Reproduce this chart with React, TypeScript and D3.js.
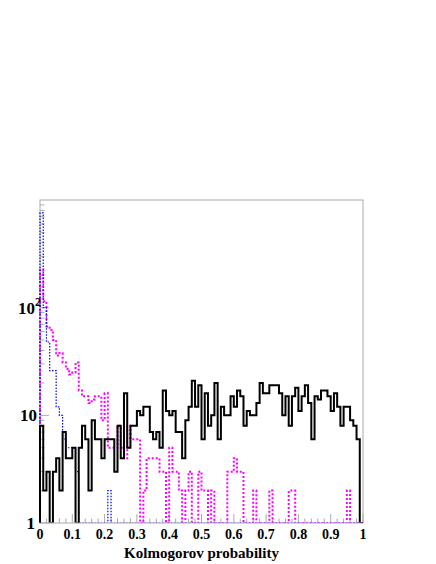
import React, { useEffect, useRef } from "react";
import * as d3 from "d3";

// bin contents, 100 bins from 0 to 1
const blackCounts = [
  8, 2, 3, 0, 3, 4, 2, 7, 4, 4, 5, 0, 5, 8, 6, 2, 9, 6, 6, 4,
  6, 6, 6, 3, 8, 4, 16, 5, 8, 8, 11, 10, 12, 12, 7, 6, 7, 5, 17, 11,
  10, 11, 7, 7, 4, 9, 12, 21, 12, 19, 6, 16, 8, 10, 20, 6, 12, 10, 10, 15,
  12, 17, 15, 8, 11, 10, 10, 13, 20, 16, 16, 19, 19, 19, 16, 10, 15, 8, 15, 18,
  11, 15, 19, 13, 6, 15, 14, 17, 17, 15, 11, 16, 12, 8, 12, 12, 9, 8, 6, 0,
];

const magentaCounts = [
  225, 115, 67, 62, 50, 36, 38, 31, 27, 24, 25, 31, 17, 15, 15, 13, 14, 15, 15, 9,
  16, 5, 5, 5, 8, 5, 4, 8, 6, 6, 6, 0, 2, 4, 4, 4, 4, 3, 3, 0,
  5, 3, 3, 2, 0, 2, 3, 0, 0, 3, 2, 2, 0, 2, 0, 0, 0, 0, 3, 3,
  4, 3, 3, 0, 0, 0, 2, 0, 0, 0, 0, 2, 0, 0, 0, 0, 0, 2, 2, 0,
  0, 0, 0, 0, 0, 0, 0, 0, 0, 0, 0, 0, 0, 0, 0, 2, 0, 0, 0, 0,
];

const blueCounts = [
  760, 100, 48, 26, 26, 12, 10, 6, 5, 5, 5, 3, 0, 0, 0, 0, 0, 0, 0, 0,
  0, 2, 0, 0, 0, 0, 0, 0, 0, 0, 0, 0, 0, 0, 0, 0, 0, 0, 0, 0,
  0, 0, 0, 0, 0, 0, 0, 0, 0, 0, 0, 0, 0, 0, 0, 0, 0, 0, 0, 0,
  0, 0, 0, 0, 0, 0, 0, 0, 0, 0, 0, 0, 0, 0, 0, 0, 0, 0, 0, 0,
  0, 0, 0, 0, 0, 0, 0, 0, 0, 0, 0, 0, 0, 0, 0, 0, 0, 0, 0, 0,
];

const xTickLabels = ["0", "0.1", "0.2", "0.3", "0.4", "0.5", "0.6", "0.7", "0.8", "0.9", "1"];
const xTitle = "Kolmogorov probability";

const W = 436;
const H = 564;

export default function App() {
  const svgRef = useRef<SVGSVGElement>(null);

  useEffect(() => {
    const svg = d3.select(svgRef.current);
    svg.selectAll("*").remove();

    const frame = { left: 40, right: 363, top: 200, bottom: 523 };
    const font = "Liberation Serif, Times New Roman, serif";

    const x = d3.scaleLinear().domain([0, 1]).range([frame.left, frame.right]);
    const y = d3.scaleLog().domain([1, 1000]).range([frame.bottom, frame.top]).clamp(true);

    // clip so empty bins running along the bottom are hidden under the frame
    svg
      .append("defs")
      .append("clipPath")
      .attr("id", "plotclip")
      .append("rect")
      .attr("x", 0)
      .attr("y", 0)
      .attr("width", W)
      .attr("height", frame.bottom - 0.6);

    // frame
    svg
      .append("rect")
      .attr("x", frame.left)
      .attr("y", frame.top)
      .attr("width", frame.right - frame.left)
      .attr("height", frame.bottom - frame.top)
      .attr("fill", "none")
      .attr("stroke", "#aaa")
      .attr("stroke-width", 1);

    // x ticks: major every 0.1, minor every 0.02
    const xt = d3.range(0, 51).map((i) => i / 50);
    svg
      .append("g")
      .selectAll("line")
      .data(xt)
      .enter()
      .append("line")
      .attr("x1", (d) => x(d))
      .attr("x2", (d) => x(d))
      .attr("y1", frame.bottom)
      .attr("y2", (d, i) => frame.bottom - (i % 5 === 0 ? 9 : 4.5))
      .attr("stroke", "#aaa");

    // y ticks (log)
    const yt: number[] = [];
    for (const dec of [1, 10, 100]) for (let k = 1; k <= 9; k++) yt.push(dec * k);
    svg
      .append("g")
      .selectAll("line")
      .data(yt)
      .enter()
      .append("line")
      .attr("y1", (d) => y(d))
      .attr("y2", (d) => y(d))
      .attr("x1", frame.left)
      .attr("x2", (d) => frame.left + ([1, 10, 100].includes(d) ? 9 : 4.5))
      .attr("stroke", "#aaa");

    // histograms
    const line = d3
      .line<[number, number]>()
      .x((d) => x(d[0]))
      .y((d) => y(Math.max(d[1], 1)))
      .curve(d3.curveStepAfter);

    const histPoints = (vals: number[]): [number, number][] => {
      const pts: [number, number][] = [[0, 0]];
      vals.forEach((v, i) => pts.push([i / vals.length, v]));
      pts.push([1, vals[vals.length - 1]]);
      pts.push([1, 0]);
      return pts;
    };

    const hists = svg.append("g").attr("clip-path", "url(#plotclip)");

    hists
      .append("path")
      .attr("d", line(histPoints(magentaCounts)))
      .attr("fill", "none")
      .attr("stroke", "#ff00ff")
      .attr("stroke-width", 2)
      .attr("stroke-dasharray", "2,2");

    hists
      .append("path")
      .attr("d", line(histPoints(blueCounts)))
      .attr("fill", "none")
      .attr("stroke", "#0000ff")
      .attr("stroke-width", 1.2)
      .attr("stroke-dasharray", "1.5,1.5");

    hists
      .append("path")
      .attr("d", line(histPoints(blackCounts)))
      .attr("fill", "none")
      .attr("stroke", "#000")
      .attr("stroke-width", 2);

    // x tick labels
    svg
      .append("g")
      .selectAll("text")
      .data(xTickLabels)
      .enter()
      .append("text")
      .attr("x", (d, i) => x(i / 10))
      .attr("y", 539)
      .attr("text-anchor", "middle")
      .attr("font-family", font)
      .attr("font-weight", "bold")
      .attr("font-size", 14)
      .text((d) => d);

    // y tick labels
    const yl = svg.append("g").attr("font-family", font).attr("font-weight", "bold").attr("font-size", 17);
    yl.append("text").attr("x", 35).attr("y", y(1) + 6).attr("text-anchor", "end").text("1");
    yl.append("text").attr("x", 37).attr("y", y(10) + 6).attr("text-anchor", "end").text("10");
    const t100 = yl.append("text").attr("x", 18).attr("y", y(100) + 6);
    t100.append("tspan").text("10");
    t100.append("tspan").attr("dy", -8).attr("font-size", 12).text("2");

    // axis title
    svg
      .append("text")
      .attr("x", (frame.left + frame.right) / 2)
      .attr("y", 558)
      .attr("text-anchor", "middle")
      .attr("font-family", font)
      .attr("font-weight", "bold")
      .attr("font-size", 15)
      .text(xTitle);
  }, []);

  return (
    <svg
      ref={svgRef}
      width={W}
      height={H}
      style={{ position: "absolute", left: 0, top: 0, background: "#fff" }}
    />
  );
}
